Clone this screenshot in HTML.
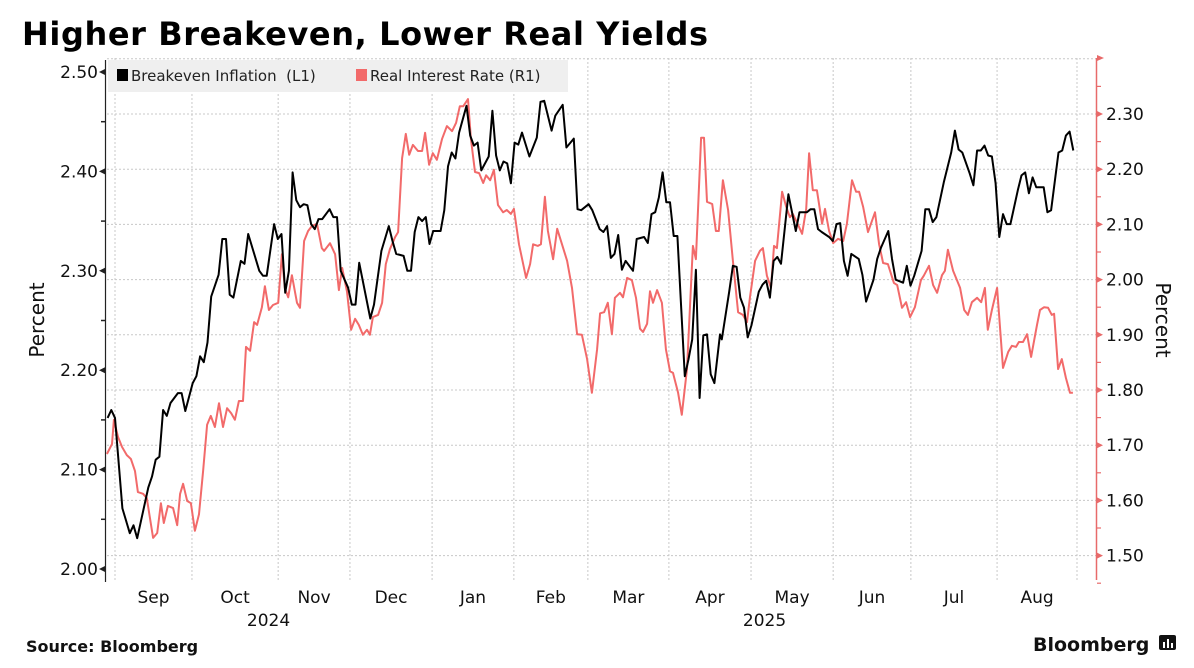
<!DOCTYPE html>
<html><head><meta charset="utf-8">
<style>
html,body{margin:0;padding:0;background:#fff;}
body{width:1194px;height:663px;overflow:hidden;font-family:"Liberation Sans","DejaVu Sans",sans-serif;}
svg text{font-family:"DejaVu Sans","Liberation Sans",sans-serif;}
</style></head>
<body>
<svg id="chart" width="1194" height="663" viewBox="0 0 1194 663" xmlns="http://www.w3.org/2000/svg">
<text x="22" y="45" font-size="32" font-weight="bold" fill="#000" letter-spacing="0.6">Higher Breakeven, Lower Real Yields</text>
<g id="grid"></g>
<g id="axes"></g>
<g id="series"></g>
<g>
<rect x="108" y="60" width="460" height="32" fill="#efefef"/>
<rect x="117" y="69" width="11" height="12" fill="#000"/>
<text x="131" y="81" font-size="15" fill="#222" xml:space="preserve">Breakeven Inflation  (L1)</text>
<rect x="356" y="69" width="11" height="12" fill="#f26a6a"/>
<text x="370" y="81" font-size="15" fill="#222">Real Interest Rate (R1)</text>
</g>
<text transform="translate(44,320) rotate(-90)" text-anchor="middle" font-size="20" fill="#111">Percent</text>
<text transform="translate(1156,320) rotate(90)" text-anchor="middle" font-size="20" fill="#111">Percent</text>
<text x="26" y="652" font-size="16" font-weight="bold" fill="#111">Source: Bloomberg</text>
<text x="1033" y="651" font-size="19" font-weight="bold" fill="#111">Bloomberg</text>
<g>
<rect x="1159" y="635" width="17" height="15" rx="2" fill="#111"/>
<rect x="1163" y="642" width="2" height="6" fill="#fff"/><rect x="1167" y="639" width="2" height="9" fill="#fff"/><rect x="1171" y="643" width="2" height="5" fill="#fff"/>
</g>
</svg>
<script>
// business-day index of each traced point, and values
const beDays = [-2,-1,0,2,4,5,6,7,9,10,11,12,13,14,15,17,18,19,21,22,23,24,25,26,28,29,30,31,32,34,35,36,39,40,41,43,44,45,46,47,48,49,50,51,52,53,54,55,56,58,59,60,61,63,64,65,66,69,70,72,74,75,76,78,79,80,81,82,83,84,85,86,88,89,90,91,92,93,95,96,97,98,99,101,102,103,104,105,106,107,108,109,110,112,114,115,116,117,118,119,121,122,124,125,126,128,129,131,132,133,134,135,136,137,138,140,141,143,144,145,146,147,148,149,150,151,152,154,155,156,157,158,159,160,161,162,163.5,164,166,167,168,169,170,171,172,174,175,176,177,178,179,180,182,184,185,186,187,188,189,190,191,193,194,195,196,197,198,199,201,202,203,205,206,207,209,210,211,213,214,215,216,218,219,220,221,222,224,225,226,227,228,229,231,232,233,234,235,236,237,238,239,240,241,242,244,245,246,247,248,249,251,252,253,255,256,257,258,259];
const beValues = [2.152,2.160,2.152,2.061,2.036,2.044,2.031,2.048,2.082,2.093,2.110,2.113,2.160,2.154,2.167,2.177,2.177,2.159,2.187,2.194,2.214,2.208,2.228,2.274,2.296,2.332,2.332,2.276,2.273,2.310,2.307,2.337,2.300,2.295,2.295,2.347,2.332,2.337,2.278,2.300,2.399,2.371,2.364,2.367,2.366,2.347,2.342,2.352,2.352,2.362,2.354,2.354,2.300,2.283,2.266,2.266,2.308,2.252,2.266,2.320,2.345,2.330,2.317,2.315,2.300,2.300,2.339,2.354,2.350,2.354,2.327,2.340,2.340,2.361,2.405,2.419,2.413,2.439,2.466,2.436,2.426,2.429,2.401,2.415,2.461,2.416,2.401,2.410,2.408,2.388,2.429,2.427,2.439,2.415,2.434,2.470,2.471,2.456,2.441,2.456,2.467,2.424,2.433,2.362,2.361,2.367,2.361,2.342,2.339,2.345,2.313,2.317,2.336,2.301,2.310,2.300,2.332,2.334,2.328,2.357,2.359,2.374,2.399,2.369,2.369,2.335,2.335,2.194,2.211,2.231,2.301,2.172,2.235,2.236,2.196,2.187,2.236,2.231,2.279,2.305,2.304,2.273,2.263,2.233,2.245,2.279,2.286,2.290,2.273,2.310,2.314,2.307,2.377,2.340,2.359,2.359,2.359,2.362,2.362,2.342,2.339,2.334,2.330,2.347,2.348,2.310,2.295,2.317,2.312,2.296,2.269,2.291,2.312,2.323,2.340,2.312,2.291,2.288,2.305,2.285,2.295,2.320,2.362,2.362,2.349,2.354,2.389,2.404,2.419,2.441,2.422,2.419,2.398,2.386,2.421,2.421,2.426,2.416,2.415,2.388,2.334,2.357,2.347,2.347,2.381,2.396,2.399,2.378,2.394,2.384,2.384,2.359,2.361,2.419,2.421,2.436,2.440,2.421];
const rrDays = [-2.2,-0.8,-0.3,0.8,1.9,3.2,4.3,5.4,6.2,7.6,8.6,10.3,11.4,12.4,13.2,14.3,15.7,16.8,17.6,18.4,19.5,20.5,21.6,22.7,23.8,24.9,25.9,27.0,28.1,29.2,30.3,31.4,32.4,33.5,34.6,35.4,36.5,37.6,38.4,39.7,40.5,41.6,42.7,44.1,45.1,45.9,46.8,47.8,49.2,50.0,51.1,52.2,53.2,54.6,55.9,56.5,58.1,59.5,60.5,61.4,62.7,63.8,64.9,65.9,67.0,68.1,68.9,69.7,71.1,72.2,73.2,74.3,75.7,76.5,77.6,78.6,79.5,80.5,81.9,83.0,83.8,84.9,85.9,87.0,88.4,89.7,91.1,92.2,93.2,94.1,95.4,96.2,97.3,98.4,99.5,100.3,101.4,102.4,103.5,104.9,105.9,107.0,107.8,109.2,111.1,112.2,113.0,114.3,115.1,116.2,117.0,118.4,119.5,120.8,122.2,123.5,124.9,126.2,127.6,128.9,130.3,131.1,132.2,133.2,134.3,135.1,136.5,137.3,138.4,139.7,140.8,141.9,142.7,143.8,144.6,145.4,146.5,147.8,148.9,150.0,150.8,152.2,153.2,154.6,156.2,157.0,158.4,159.2,160.0,161.4,162.4,163.2,164.3,165.7,167.0,168.4,169.7,170.8,171.6,173.0,174.3,175.1,176.2,177.3,178.1,178.9,180.3,181.4,182.4,183.2,184.3,185.7,186.8,187.6,188.6,189.7,191.1,191.9,193.0,194.1,195.4,196.8,197.8,199.2,200.3,201.1,202.2,203.5,205.4,206.5,207.6,208.9,210.5,211.4,212.7,213.8,214.9,216.2,217.8,218.6,220.0,221.1,222.2,223.5,224.3,225.1,226.5,228.4,229.5,230.5,231.6,233.0,234.1,235.1,235.9,237.0,238.4,240.0,241.4,242.4,243.5,244.3,245.4,246.5,247.6,249.2,250.0,251.1,252.2,253.2,253.8,254.9,255.9,257.0,258.1,258.9];
const rrValues = [1.684,1.702,1.746,1.715,1.697,1.682,1.675,1.653,1.615,1.612,1.604,1.532,1.541,1.595,1.559,1.590,1.586,1.555,1.612,1.630,1.599,1.595,1.545,1.575,1.653,1.737,1.753,1.733,1.776,1.733,1.767,1.758,1.746,1.780,1.780,1.878,1.871,1.923,1.918,1.950,1.988,1.945,1.954,1.958,2.046,1.985,1.968,2.008,1.958,1.949,2.070,2.088,2.097,2.101,2.057,2.052,2.066,2.046,1.981,2.021,1.978,1.909,1.929,1.918,1.900,1.909,1.900,1.932,1.936,1.958,2.028,2.055,2.077,2.086,2.220,2.264,2.226,2.244,2.233,2.233,2.266,2.208,2.229,2.217,2.255,2.278,2.269,2.284,2.314,2.314,2.327,2.255,2.195,2.193,2.175,2.189,2.180,2.199,2.135,2.122,2.126,2.119,2.128,2.064,2.003,2.028,2.064,2.061,2.064,2.150,2.088,2.037,2.092,2.064,2.034,1.985,1.901,1.900,1.856,1.795,1.874,1.939,1.941,1.958,1.901,1.967,1.976,1.968,2.003,1.999,1.967,1.911,1.905,1.920,1.979,1.958,1.981,1.958,1.874,1.834,1.831,1.795,1.755,1.838,2.061,2.037,2.257,2.257,2.141,2.137,2.088,2.088,2.180,2.126,2.034,1.941,1.936,1.923,1.967,2.034,2.052,2.057,2.007,1.985,2.061,2.057,2.159,2.132,2.113,2.119,2.104,2.083,2.128,2.229,2.162,2.162,2.101,2.128,2.088,2.066,2.074,2.070,2.101,2.180,2.159,2.159,2.132,2.086,2.122,2.064,2.030,2.028,1.994,1.990,1.949,1.959,1.932,1.950,1.999,2.007,2.025,1.990,1.976,2.008,2.016,2.054,2.016,1.985,1.945,1.936,1.959,1.967,1.959,1.985,1.909,1.945,1.985,1.840,1.869,1.880,1.878,1.887,1.887,1.901,1.860,1.918,1.945,1.950,1.949,1.936,1.938,1.838,1.856,1.822,1.795,1.795];
const monthStarts = [0,20.8,44.1,63.5,85.7,107.8,127.8,149.7,171.9,194.1,215.1,238.4,260];
const monthLabels = ["Sep","Oct","Nov","Dec","Jan","Feb","Mar","Apr","May","Jun","Jul","Aug"];
const yearLabels = ["2024","2025"];
const yearSpans = [[0,4],[4,12]];
const leftTicks = [2.00,2.10,2.20,2.30,2.40,2.50];
const rightTicks = [1.50,1.60,1.70,1.80,1.90,2.00,2.10,2.20,2.30];

const NS = "http://www.w3.org/2000/svg";
const X0 = 115, PX_PER_DAY = 3.7;
const xS = d => X0 + d * PX_PER_DAY;
const yL = v => 569 - (v - 2.00) * 994;
const yR = v => 114 + (2.30 - v) * 552;
function mk(tag, attrs, parent) {
  const el = document.createElementNS(NS, tag);
  for (const k in attrs) el.setAttribute(k, attrs[k]);
  parent.appendChild(el);
  return el;
}
const grid = document.getElementById('grid');
const axes = document.getElementById('axes');
const series = document.getElementById('series');

for (let v = 1.50; v <= 2.401; v += 0.10) {
  const y = yR(v);
  const l = mk('line', {x1: 107, x2: 1096, y1: y, y2: y, stroke: '#c8c8c8', 'stroke-width': 1, 'stroke-dasharray': '2,2'}, grid);
  
  
}
monthStarts.forEach(d => {
  const x = xS(d);
  const l = mk('line', {x1: x, x2: x, y1: 58, y2: 580, stroke: '#c8c8c8', 'stroke-width': 1, 'stroke-dasharray': '2,2'}, grid);
  
  
});
monthLabels.forEach((m, i) => {
  const t = mk('text', {x: (xS(monthStarts[i]) + xS(monthStarts[i + 1])) / 2, y: 603, 'text-anchor': 'middle', 'font-size': 17, fill: '#111'}, axes);
  t.textContent = m;
  
  
});
yearLabels.forEach((yl, i) => {
  const cx = (xS(monthStarts[yearSpans[i][0]]) + xS(monthStarts[yearSpans[i][1]])) / 2 + (i === 0 ? -5 : 10);
  const t = mk('text', {x: cx, y: 626, 'text-anchor': 'middle', 'font-size': 17, fill: '#111'}, axes);
  t.textContent = yl;
  
  
});
const la = mk('line', {x1: 105.5, x2: 105.5, y1: 60, y2: 582, stroke: '#222', 'stroke-width': 1.2}, axes);


for (let v = 2.00; v <= 2.501; v += 0.05) {
  const y = yL(v);
  mk('line', {x1: 101, x2: 105, y1: y, y2: y, stroke: '#222', 'stroke-width': 1.5}, axes);
}
leftTicks.forEach(v => {
  const y = yL(v);
  mk('path', {d: `M99 ${y} L105 ${y-3} L105 ${y+3} Z`, fill: '#222'}, axes);
  const t = mk('text', {x: 98, y: y + 6, 'text-anchor': 'end', 'font-size': 17, fill: '#111'}, axes);
  t.textContent = v.toFixed(2);
  
  
});
const ra = mk('line', {x1: 1096.5, x2: 1096.5, y1: 58, y2: 580, stroke: '#e86a6a', 'stroke-width': 1.5}, axes);


mk('path', {d: `M1097 55 L1104 58 L1097 61 Z`, fill: '#e86a6a'}, axes);
for (let v = 1.45; v <= 2.40; v += 0.05) {
  const y = yR(v);
  mk('line', {x1: 1097, x2: 1101, y1: y, y2: y, stroke: '#e86a6a', 'stroke-width': 1.2}, axes);
}
rightTicks.forEach(v => {
  const y = yR(v);
  mk('path', {d: `M1097 ${y-3} L1103 ${y} L1097 ${y+3} Z`, fill: '#e86a6a'}, axes);
  const t = mk('text', {x: 1106, y: y + 6, 'font-size': 17, fill: '#111'}, axes);
  t.textContent = v.toFixed(2);
  
  
});
const rrPath = mk('polyline', {points: rrDays.map((d, i) => xS(d).toFixed(1) + ',' + yR(rrValues[i]).toFixed(1)).join(' '), fill: 'none', stroke: '#f26a6a', 'stroke-width': 2, 'stroke-linejoin': 'round'}, series);


const bePath = mk('polyline', {points: beDays.map((d, i) => xS(d).toFixed(1) + ',' + yL(beValues[i]).toFixed(1)).join(' '), fill: 'none', stroke: '#000', 'stroke-width': 2, 'stroke-linejoin': 'round'}, series);


</script>
</body></html>
